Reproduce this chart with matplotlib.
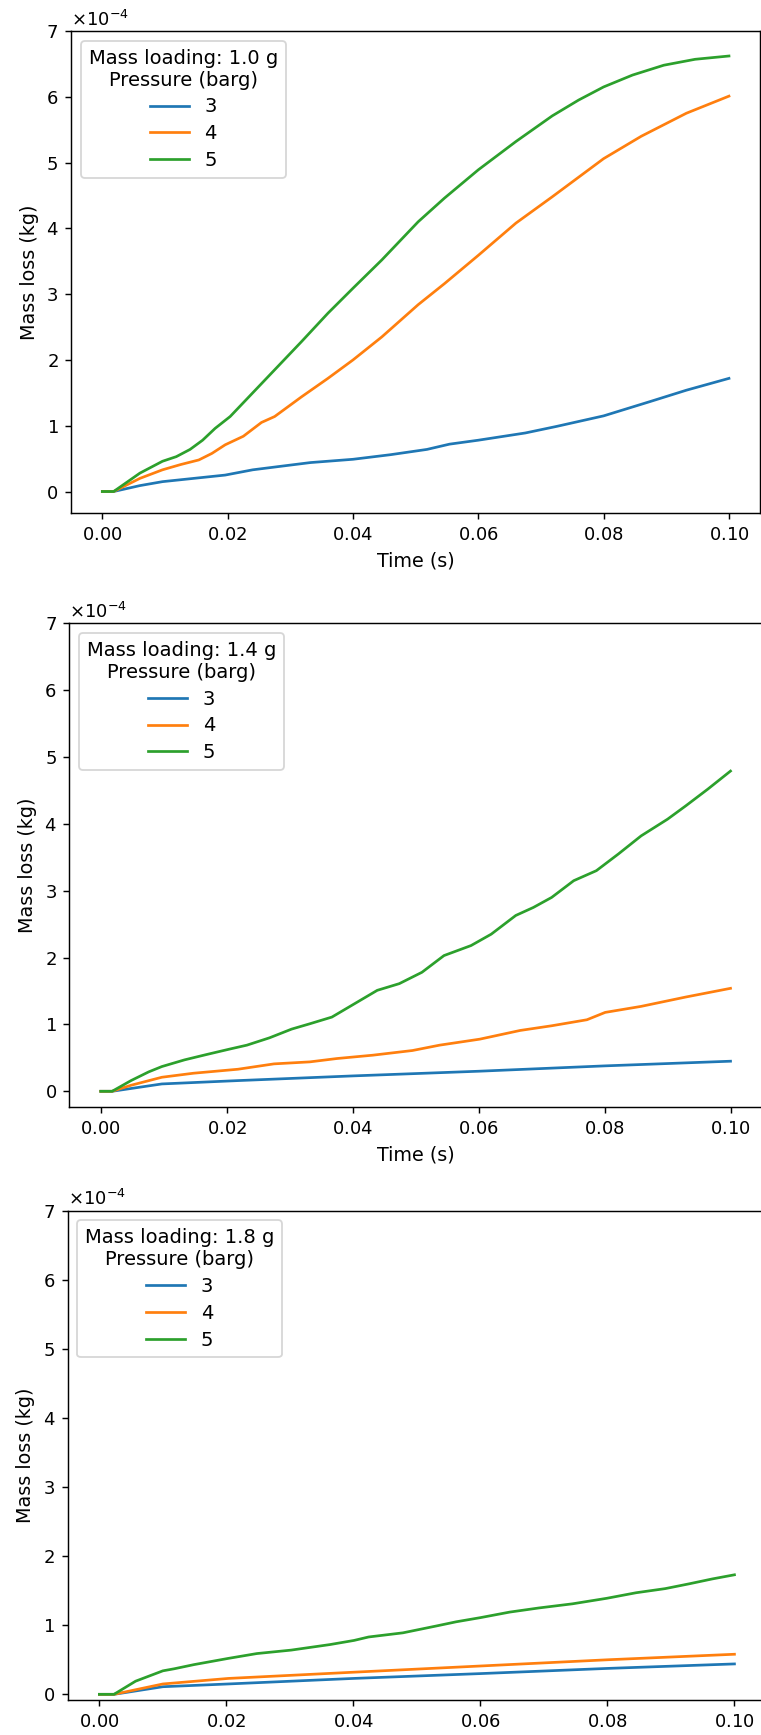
import matplotlib
matplotlib.use("Agg")
import matplotlib.pyplot as plt
import numpy as np

plt.rcParams["axes.formatter.use_mathtext"] = True

DPI = 130

# ---- Mass loading 1.0 g ----
t_a3 = [0.0, 0.0018, 0.006, 0.0096, 0.0146, 0.0196, 0.024, 0.029, 0.0332, 0.04,
        0.046, 0.0518, 0.0554, 0.06, 0.0675, 0.0725, 0.08, 0.0875, 0.0932, 0.1]
m_a3 = [0.0, 0.0, 0.09, 0.15, 0.20, 0.25, 0.33, 0.39, 0.44, 0.49,
        0.56, 0.64, 0.72, 0.78, 0.89, 0.99, 1.15, 1.37, 1.54, 1.72]

t_a4 = [0.0, 0.0018, 0.006, 0.0096, 0.0125, 0.0154, 0.0175, 0.0196, 0.0225, 0.0254,
        0.0275, 0.0318, 0.036, 0.04, 0.0446, 0.0504, 0.0546, 0.06, 0.066, 0.0718,
        0.08, 0.086, 0.0932, 0.1]
m_a4 = [0.0, 0.0, 0.20, 0.33, 0.41, 0.48, 0.58, 0.71, 0.84, 1.05,
        1.14, 1.44, 1.72, 2.00, 2.35, 2.84, 3.16, 3.59, 4.08, 4.48,
        5.06, 5.40, 5.75, 6.01]

t_a5 = [0.0, 0.0018, 0.006, 0.0096, 0.0118, 0.014, 0.016, 0.018, 0.0204, 0.0232,
        0.0275, 0.0318, 0.036, 0.04, 0.0446, 0.0504, 0.0546, 0.06, 0.066, 0.0718,
        0.076, 0.08, 0.0846, 0.0896, 0.0946, 0.1]
m_a5 = [0.0, 0.0, 0.28, 0.46, 0.53, 0.64, 0.78, 0.96, 1.14, 1.42,
        1.85, 2.28, 2.71, 3.09, 3.52, 4.10, 4.46, 4.89, 5.32, 5.71,
        5.95, 6.15, 6.33, 6.48, 6.57, 6.62]

# ---- Mass loading 1.4 g ----
t_b3 = [0.0, 0.0018, 0.0097, 0.0218, 0.04, 0.06, 0.08, 0.1]
m_b3 = [0.0, 0.0, 0.11, 0.16, 0.23, 0.30, 0.38, 0.45]

t_b4 = [0.0, 0.0018, 0.0048, 0.0097, 0.0147, 0.0218, 0.0275, 0.0332, 0.0375, 0.0432,
        0.0495, 0.0538, 0.0602, 0.0666, 0.0716, 0.0772, 0.0801, 0.0858, 0.0929, 0.1]
m_b4 = [0.0, 0.0, 0.09, 0.21, 0.27, 0.33, 0.41, 0.44, 0.49, 0.54,
        0.61, 0.69, 0.78, 0.91, 0.98, 1.07, 1.18, 1.27, 1.41, 1.54]

t_b5 = [0.0, 0.0018, 0.0048, 0.0076, 0.0097, 0.0133, 0.0168, 0.0204, 0.0232, 0.0268,
        0.0303, 0.0332, 0.0367, 0.0403, 0.0439, 0.0474, 0.051, 0.0545, 0.0588, 0.062,
        0.0659, 0.0687, 0.0716, 0.0751, 0.0787, 0.0822, 0.0858, 0.09, 0.0929, 0.0964, 0.1]
m_b5 = [0.0, 0.0, 0.16, 0.29, 0.37, 0.47, 0.55, 0.63, 0.69, 0.80,
        0.93, 1.01, 1.11, 1.31, 1.51, 1.61, 1.78, 2.03, 2.18, 2.35,
        2.63, 2.75, 2.90, 3.15, 3.30, 3.55, 3.82, 4.07, 4.27, 4.52, 4.79]

# ---- Mass loading 1.8 g ----
t_c3 = [0.0, 0.0023, 0.01, 0.0203, 0.04, 0.06, 0.08, 0.1]
m_c3 = [0.0, 0.0, 0.11, 0.15, 0.23, 0.30, 0.375, 0.44]

t_c4 = [0.0, 0.0023, 0.01, 0.0203, 0.04, 0.06, 0.08, 0.1]
m_c4 = [0.0, 0.0, 0.15, 0.23, 0.32, 0.41, 0.50, 0.58]

t_c5 = [0.0, 0.0023, 0.0057, 0.01, 0.0118, 0.0149, 0.0203, 0.0248, 0.0302, 0.0363,
        0.0401, 0.0424, 0.0478, 0.0531, 0.0562, 0.06, 0.0646, 0.0692, 0.0745, 0.0799,
        0.0845, 0.0891, 0.0929, 0.0965, 0.1]
m_c5 = [0.0, 0.0, 0.19, 0.34, 0.37, 0.43, 0.52, 0.59, 0.64, 0.72,
        0.78, 0.83, 0.89, 0.99, 1.05, 1.11, 1.19, 1.25, 1.31, 1.39,
        1.47, 1.53, 1.60, 1.67, 1.73]

pressures = ["3", "4", "5"]
loadings = ["1.0", "1.4", "1.8"]
SCALE = 1e-4

panels = [
    [(t_a3, m_a3), (t_a4, m_a4), (t_a5, m_a5)],
    [(t_b3, m_b3), (t_b4, m_b4), (t_b5, m_b5)],
    [(t_c3, m_c3), (t_c4, m_c4), (t_c5, m_c5)],
]

W, H = 761, 1735
fig = plt.figure(figsize=(W / DPI, H / DPI), dpi=DPI)

# axes rectangles in pixels: left, bottom(from top), width, height
rects_px = [
    (71.0, 513.3, 689.3, 482.3),
    (69.3, 1107.3, 692.7, 484.0),
    (67.6, 1700.3, 698.6, 489.6),
]

LABEL_SIZE = 10.6
LEGEND_SIZE = 10.8

for i, (series, loading, r) in enumerate(zip(panels, loadings, rects_px)):
    left, bottom_top, w, h = r
    ax = fig.add_axes([left / W, 1 - bottom_top / H, w / W, h / H])
    for (t, m), p in zip(series, pressures):
        ax.plot(t, np.asarray(m) * SCALE, label=p)
    ax.set_ylim(top=7e-4)
    ax.ticklabel_format(style="sci", axis="y", scilimits=(0, 0), useMathText=True)
    ax.set_ylabel("Mass loss (kg)", fontsize=LABEL_SIZE)
    if i < 2:
        ax.set_xlabel("Time (s)", fontsize=LABEL_SIZE)
    ax.set_xticks([0.0, 0.02, 0.04, 0.06, 0.08, 0.10])
    leg = ax.legend(title=f"Mass loading: {loading} g\nPressure (barg)",
                    loc="upper left", fontsize=LEGEND_SIZE,
                    title_fontsize=LEGEND_SIZE, labelspacing=0.4)
    leg.get_title().set_multialignment("center")

fig.savefig("out.png", dpi=DPI)
